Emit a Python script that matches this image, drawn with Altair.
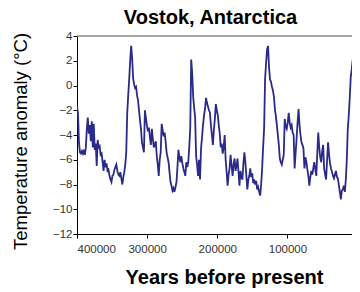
import altair as alt
import pandas as pd

# Years before present (sampled along the trace)
years = [
    400000, 398600, 397200, 395800, 394400, 393000, 391600, 390200, 388800, 387400,
    386000, 384600, 383200, 381800, 380400, 378900, 377500, 376100, 374700, 373300,
    371900, 370500, 369100, 367700, 366300, 364900, 363500, 362100, 360700, 359300,
    357900, 356500, 355100, 353700, 352300, 350900, 349500, 348100, 346700, 345300,
    343900, 342500, 341100, 339600, 338200, 336800, 335400, 334000, 332600, 331200,
    329800, 328400, 327000, 325600, 324200, 322800, 321400, 320000, 318600, 317200,
    315800, 314400, 313000, 311600, 310200, 308800, 307400, 306000, 304600, 303200,
    301800, 300400, 298900, 297500, 296100, 294700, 293300, 291900, 290500, 289100,
    287700, 286300, 284900, 283500, 282100, 280700, 279300, 277900, 276500, 275100,
    273700, 272300, 270900, 269500, 268100, 266700, 265300, 263900, 262500, 261100,
    259600, 258200, 256800, 255400, 254000, 252600, 251200, 249800, 248400, 247000,
    245600, 244200, 242800, 241400, 240000, 238600, 237200, 235800, 234400, 233000,
    231600, 230200, 228800, 227400, 226000, 224600, 223200, 221800, 220400, 218900,
    217500, 216100, 214700, 213300, 211900, 210500, 209100, 207700, 206300, 204900,
    203500, 202100, 200700, 199300, 197900, 196500, 195100, 193700, 192300, 190900,
    189500, 188100, 186700, 185300, 183900, 182500, 181100, 179600, 178200, 176800,
    175400, 174000, 172600, 171200, 169800, 168400, 167000, 165600, 164200, 162800,
    161400, 160000, 158600, 157200, 155800, 154400, 153000, 151600, 150200, 148800,
    147400, 146000, 144600, 143200, 141800, 140300, 138900, 137500, 136100, 134700,
    133300, 131900, 130500, 129100, 127700, 126300, 124900, 123500, 122100, 120700,
    119300, 117900, 116500, 115100, 113700, 112300, 110900, 109500, 108100, 106700,
    105300, 103900, 102500, 101100, 99600, 98200, 96800, 95400, 94000, 92600,
    91200, 89800, 88400, 87000, 85600, 84200, 82800, 81400, 80000, 78600,
    77200, 75800, 74400, 73000, 71600, 70200, 68800, 67400, 66000, 64600,
    63200, 61800, 60300, 58900, 57500, 56100, 54700, 53300, 51900, 50500,
    49100, 47700, 46300, 44900, 43500, 42100, 40700, 39300, 37900, 36500,
    35100, 33700, 32300, 30900, 29500, 28100, 26700, 25300, 23900, 22500,
    21100, 19700, 18200, 16800, 15400, 14000, 12600, 11200, 9800, 8400,
    7000, 5600, 4200, 2800, 1000,
]

# Temperature anomaly (deg C)
temps = [
    -1.7, -2.2, -4.6, -5.4, -5.5, -5.3, -5.5, -5.2, -5.6, -5.0,
    -3.5, -2.6, -3.9, -3.2, -4.5, -2.9, -5.0, -3.1, -5.2, -4.7,
    -6.5, -4.4, -5.0, -4.9, -5.6, -5.5, -6.2, -6.9, -6.0, -6.6,
    -6.3, -6.9, -6.8, -7.3, -7.6, -7.8, -7.3, -7.2, -6.8, -6.6,
    -6.4, -6.9, -7.2, -7.3, -7.0, -7.5, -8.0, -7.4, -7.0, -6.4,
    -5.4, -2.2, -0.8, 0.5, 2.0, 3.2, 2.2, 0.6, 0.1, -0.2,
    -0.1, -0.8, -1.2, -2.0, -2.8, -3.5, -4.6, -5.0, -5.4, -2.0,
    -2.6, -3.2, -3.7, -3.4, -4.2, -4.8, -3.5, -4.3, -5.0, -4.8,
    -4.5, -5.7, -6.4, -7.3, -6.0, -5.4, -3.1, -3.6, -4.1, -3.8,
    -4.5, -5.4, -5.8, -6.2, -7.0, -7.8, -8.1, -8.5, -8.3, -8.6,
    -8.2, -7.8, -6.6, -5.2, -5.8, -6.2, -5.7, -6.3, -6.7, -7.0,
    -7.3, -6.2, -6.6, -6.2, -5.0, -3.5, 2.1, 1.0, -0.9, -1.8,
    -2.6, -5.7, -6.4, -7.3, -6.0, -7.6, -5.1, -4.2, -3.2, -2.4,
    -1.9, -1.0, -1.4, -1.7, -2.0, -2.2, -3.2, -4.0, -4.8, -3.6,
    -2.7, -1.5, -2.0, -2.4, -3.2, -3.9, -5.0, -4.7, -5.5, -5.0,
    -4.0, -6.0, -7.0, -8.1, -7.2, -6.7, -5.6, -6.5, -7.3, -6.4,
    -5.9, -6.9, -6.5, -5.9, -7.0, -8.1, -6.9, -7.4, -7.6, -6.3,
    -5.4, -6.2, -7.3, -8.4, -7.6, -7.3, -6.7, -7.4, -7.1, -7.9,
    -7.6, -8.0, -7.7, -8.4, -8.2, -8.6, -8.9, -8.0, -6.7, -5.0,
    -3.5, 0.5, 1.8, 2.9, 3.2, 1.5, 0.5, 0.3, -0.1, -0.4,
    -0.9, -1.9, -2.5, -3.2, -4.0, -4.8, -5.9, -6.2, -6.4, -6.0,
    -5.6, -2.7, -3.3, -3.5, -3.0, -2.2, -3.0, -3.4, -3.2, -3.8,
    -4.0, -6.7, -5.5, -4.3, -3.0, -1.9, -3.2, -4.0, -4.6, -4.8,
    -5.1, -6.7, -5.8, -6.2, -6.8, -7.3, -8.1, -7.4, -6.9, -7.2,
    -6.7, -6.2, -6.8, -7.3, -5.5, -3.8, -5.0, -5.8, -6.2, -5.3,
    -4.8, -6.7, -7.2, -7.6, -6.0, -4.6, -5.6, -6.3, -6.7, -7.0,
    -7.3, -7.5, -7.2, -6.9, -7.4, -7.5, -8.1, -8.6, -9.2, -8.5,
    -8.4, -8.1, -8.6, -7.6, -6.0, -3.5, -2.4, -1.0, 0.7, 1.3,
    2.1, -0.3, 0.2, -0.2, -0.5,
]

x_ticks = [400000, 300000, 200000, 100000, 0]
y_ticks = [4, 2, 0, -2, -4, -6, -8, -10, -12]

W, H = 275, 198
FONT = "Liberation Sans"

df = pd.DataFrame({"year": years, "temp": temps})

line = alt.Chart(df).mark_line(
    color="#2a2a88", strokeWidth=1.8, clip=True
).encode(
    x=alt.X(
        "year:Q",
        scale=alt.Scale(domain=[8000, 400000], reverse=True, nice=False, zero=False),
        axis=alt.Axis(
            values=x_ticks, format="d", title="Years before present",
            titleFontSize=20, titleFontWeight="bold", titleColor="black",
            titleFont=FONT, titleX=147, titleY=49, titleAlign="center",
            titleBaseline="alphabetic", labelPadding=5, grid=False,
        ),
    ),
    y=alt.Y(
        "temp:Q",
        scale=alt.Scale(domain=[-12, 4], nice=False, zero=False),
        axis=alt.Axis(
            values=y_ticks, format="d", title="Temperature anomaly (\u00b0C)",
            titleFontSize=18.5, titleFontWeight="normal", titleColor="black",
            titleFont=FONT, titleX=-57, titleY=105, titleAngle=270,
            titleAlign="center", titleBaseline="middle", labelPadding=1,
            grid=False,
        ),
    ),
)

top_border = alt.Chart(pd.DataFrame({"k": [0]})).mark_rule(
    color="#888888", strokeWidth=1.5
).encode(x=alt.value(0), x2=alt.value(W), y=alt.value(0))

chart = alt.layer(line, top_border).properties(
    width=W,
    height=H,
    autosize=alt.AutoSizeParams(type="none"),
    padding={"left": 69, "top": 28, "right": 0, "bottom": 58},
    title=alt.TitleParams(
        "Vostok, Antarctica", font=FONT, fontSize=20, fontWeight="bold",
        color="black", anchor="middle", dx=-4, offset=2,
    ),
).configure_view(stroke=None).configure_axis(
    domainColor="black", tickColor="black", tickSize=4,
    labelColor="#333333", labelFont=FONT, labelFontSize=11.5,
)

chart.save("out.html", embed_options={"renderer": "svg", "actions": False})
